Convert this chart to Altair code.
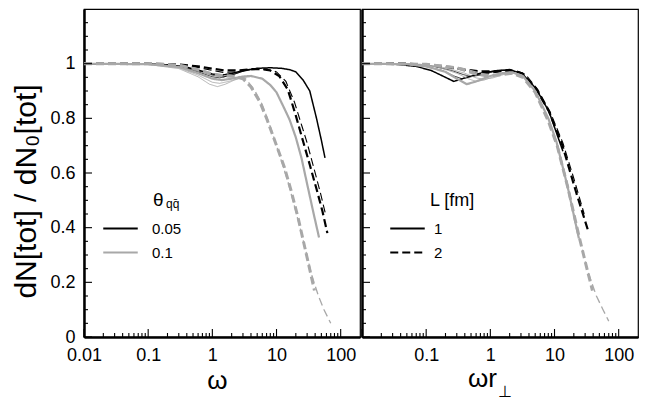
import altair as alt
import pandas as pd

# ---------------- data ----------------
# Left panel: x = omega
L_BS1_X = [0.01, 0.1, 0.2, 0.4, 0.7, 1.0, 1.4, 2, 3, 5, 8, 12, 16, 20, 26, 33, 42, 50, 57]
L_BS1_Y = [1.0, 0.999, 0.996, 0.987, 0.972, 0.962, 0.958, 0.964, 0.975, 0.983, 0.985, 0.983, 0.978, 0.97, 0.94, 0.9, 0.8, 0.72, 0.655]
L_BS2_X = [0.01, 0.1, 0.3, 0.6, 1.0, 1.3, 2, 3, 5]
L_BS2_Y = [1.0, 0.998, 0.99, 0.97, 0.952, 0.948, 0.958, 0.972, 0.982]
L_BS3_X = [0.01, 0.1, 0.3, 0.6, 1.0, 1.5, 2.2, 3.2, 5]
L_BS3_Y = [1.0, 0.999, 0.992, 0.975, 0.958, 0.952, 0.962, 0.975, 0.983]
L_BD1_X = [0.01, 0.1, 0.3, 0.6, 1, 1.5, 2.5, 4, 6, 8, 11, 15, 20, 26, 33, 43, 52, 62]
L_BD1_Y = [1.0, 1.0, 0.997, 0.99, 0.982, 0.976, 0.975, 0.98, 0.98, 0.975, 0.955, 0.905, 0.81, 0.715, 0.63, 0.533, 0.46, 0.38]
L_BD2_X = [0.01, 0.2, 0.5, 1, 1.5, 2.5, 4, 7, 10, 14, 19, 25, 30, 38, 48, 58]
L_BD2_Y = [1.0, 0.998, 0.99, 0.975, 0.968, 0.97, 0.978, 0.98, 0.97, 0.935, 0.86, 0.77, 0.71, 0.62, 0.53, 0.45]
L_GS1_X = [0.01, 0.1, 0.3, 0.6, 1, 1.4, 2, 3, 4, 6, 8, 10, 13, 16, 20, 24.5, 30, 38, 46]
L_GS1_Y = [1.0, 0.998, 0.988, 0.965, 0.945, 0.94, 0.945, 0.953, 0.955, 0.945, 0.922, 0.895, 0.84, 0.795, 0.73, 0.655, 0.56, 0.45, 0.364]
L_GS2_X = [0.01, 0.1, 0.3, 0.6, 0.9, 1.2, 1.6, 2.2, 3, 4]
L_GS2_Y = [1.0, 0.997, 0.982, 0.952, 0.925, 0.916, 0.925, 0.94, 0.95, 0.953]
L_GS3_X = [0.01, 0.1, 0.3, 0.6, 1, 1.3, 1.8, 2.5, 3.5]
L_GS3_Y = [1.0, 0.998, 0.985, 0.958, 0.932, 0.928, 0.935, 0.945, 0.953]
L_GD1_X = [0.01, 0.1, 0.3, 0.6, 1, 1.5, 2.2, 3, 4, 5.5, 7, 9, 13.3, 17, 22, 30, 39]
L_GD1_Y = [1.0, 1.0, 0.995, 0.978, 0.962, 0.955, 0.953, 0.945, 0.915, 0.86, 0.8, 0.73, 0.62, 0.533, 0.43, 0.29, 0.17]
L_GD2_X = [0.01, 0.2, 0.5, 1, 1.6, 2.5, 3.3, 4.5, 6, 8, 11, 15, 20, 27, 35, 45, 55, 70]
L_GD2_Y = [1.0, 0.998, 0.985, 0.965, 0.958, 0.955, 0.945, 0.905, 0.85, 0.77, 0.67, 0.57, 0.46, 0.34, 0.23, 0.15, 0.1, 0.05]

# Right panel: x = omega * r_perp
R_BS1_X = [0.01, 0.03, 0.07, 0.12, 0.2, 0.27, 0.4, 0.7, 1.3, 2, 3.1, 5.1, 8.2, 13.5]
R_BS1_Y = [1.0, 0.999, 0.99, 0.975, 0.95, 0.935, 0.948, 0.965, 0.975, 0.977, 0.965, 0.91, 0.825, 0.68]
R_BS2_X = [0.01, 0.04, 0.1, 0.18, 0.27, 0.36, 0.5, 0.8, 1.3, 2, 3.1]
R_BS2_Y = [1.0, 0.998, 0.99, 0.975, 0.955, 0.945, 0.952, 0.966, 0.975, 0.977, 0.965]
R_BS3_X = [0.01, 0.05, 0.12, 0.25, 0.38, 0.5, 0.7, 1.0, 1.5, 2.2]
R_BS3_Y = [1.0, 0.999, 0.992, 0.975, 0.96, 0.953, 0.958, 0.968, 0.975, 0.977]
R_BD1_X = [0.01, 0.05, 0.1, 0.2, 0.4, 0.7, 1.2, 2, 3.1, 5.1, 8.2, 13.2, 21.5, 33.6]
R_BD1_Y = [1.0, 1.0, 0.996, 0.988, 0.978, 0.972, 0.972, 0.977, 0.965, 0.91, 0.825, 0.703, 0.533, 0.387]
R_BD2_X = [0.01, 0.07, 0.15, 0.3, 0.6, 1.0, 1.6, 2.5, 3.5, 5.5, 8.5, 13.5, 20, 29]
R_BD2_Y = [1.0, 0.999, 0.994, 0.982, 0.968, 0.965, 0.972, 0.975, 0.962, 0.905, 0.825, 0.71, 0.58, 0.45]
R_GS1_X = [0.01, 0.05, 0.1, 0.2, 0.3, 0.43, 0.6, 1, 1.5, 2.2, 3.2, 5, 8, 10.7, 16, 24]
R_GS1_Y = [1.0, 0.998, 0.99, 0.97, 0.945, 0.925, 0.935, 0.955, 0.965, 0.968, 0.955, 0.9, 0.8, 0.715, 0.55, 0.36]
R_GS2_X = [0.01, 0.06, 0.15, 0.3, 0.45, 0.6, 0.8, 1.2, 1.8, 2.5]
R_GS2_Y = [1.0, 0.998, 0.988, 0.965, 0.945, 0.935, 0.94, 0.955, 0.965, 0.968]
R_GS3_X = [0.01, 0.08, 0.2, 0.4, 0.6, 0.8, 1.1, 1.6, 2.4]
R_GS3_Y = [1.0, 0.998, 0.985, 0.965, 0.948, 0.943, 0.948, 0.96, 0.967]
R_GD1_X = [0.01, 0.1, 0.3, 0.6, 0.9, 1.5, 2.2, 3.2, 5, 8, 11, 16, 24, 32, 39]
R_GD1_Y = [1.0, 0.998, 0.985, 0.962, 0.955, 0.96, 0.965, 0.95, 0.895, 0.79, 0.7, 0.55, 0.37, 0.25, 0.17]
R_GD2_X = [0.01, 0.12, 0.35, 0.7, 1.1, 1.7, 2.5, 3.5, 5.3, 8.3, 11.5, 16.5, 24, 33, 45, 57, 70]
R_GD2_Y = [1.0, 0.998, 0.985, 0.965, 0.958, 0.962, 0.964, 0.948, 0.89, 0.785, 0.69, 0.545, 0.37, 0.24, 0.15, 0.1, 0.058]

THETA_VALUES = ["0.05", "0.1"]
L_VALUES = ["1", "2"]

# curve id -> (panel, theta, L, x, y)
CURVES = {
    "L_bs1": ("left", "0.05", "1", L_BS1_X, L_BS1_Y),
    "L_bs2": ("left", "0.05", "1", L_BS2_X, L_BS2_Y),
    "L_bs3": ("left", "0.05", "1", L_BS3_X, L_BS3_Y),
    "L_bd1": ("left", "0.05", "2", L_BD1_X, L_BD1_Y),
    "L_bd2": ("left", "0.05", "2", L_BD2_X, L_BD2_Y),
    "L_gs1": ("left", "0.1", "1", L_GS1_X, L_GS1_Y),
    "L_gs2": ("left", "0.1", "1", L_GS2_X, L_GS2_Y),
    "L_gs3": ("left", "0.1", "1", L_GS3_X, L_GS3_Y),
    "L_gd1": ("left", "0.1", "2", L_GD1_X, L_GD1_Y),
    "L_gd2": ("left", "0.1", "2", L_GD2_X, L_GD2_Y),
    "R_bs1": ("right", "0.05", "1", R_BS1_X, R_BS1_Y),
    "R_bs2": ("right", "0.05", "1", R_BS2_X, R_BS2_Y),
    "R_bs3": ("right", "0.05", "1", R_BS3_X, R_BS3_Y),
    "R_bd1": ("right", "0.05", "2", R_BD1_X, R_BD1_Y),
    "R_bd2": ("right", "0.05", "2", R_BD2_X, R_BD2_Y),
    "R_gs1": ("right", "0.1", "1", R_GS1_X, R_GS1_Y),
    "R_gs2": ("right", "0.1", "1", R_GS2_X, R_GS2_Y),
    "R_gs3": ("right", "0.1", "1", R_GS3_X, R_GS3_Y),
    "R_gd1": ("right", "0.1", "2", R_GD1_X, R_GD1_Y),
    "R_gd2": ("right", "0.1", "2", R_GD2_X, R_GD2_Y),
}

# tick values / labels
X_MAJOR = [0.01, 0.1, 1, 10, 100]
X_MAJOR_RIGHT = [0.1, 1, 10, 100]
X_MINOR = [round(k * 10.0 ** e, 6) for e in (-2, -1, 0, 1, 2) for k in range(2, 10) if k * 10.0 ** e < 200]
Y_MAJOR = [0, 0.2, 0.4, 0.6, 0.8, 1.0]
Y_MINOR = [round(0.05 * i, 2) for i in range(1, 24) if i % 4 != 0]

Y_TITLE = "dN[tot]    /    dN\u2080[tot]"
X_TITLE_LEFT = "\u03c9"
X_TITLE_RIGHT = "\u03c9r"
X_TITLE_RIGHT_SUB = "\u22a5"
LEG_THETA = "\u03b8"
LEG_THETA_SUB = "qq\u0304"
LEG_L = "L [fm]"

# ---------------- styles ----------------
WIDTHS = {"bs1": 1.5, "bs2": 0.8, "bs3": 0.8, "bd1": 2.2, "bd2": 1.1,
          "gs1": 2.2, "gs2": 0.9, "gs3": 0.9, "gd1": 3.0, "gd2": 1.3}
BLACK = "#000000"
GRAY = "#a8a8a8"
FONT = "Liberation Sans"

rows = []
for cid, (panel, theta, L, xs, ys) in CURVES.items():
    for i, (xv, yv) in enumerate(zip(xs, ys)):
        rows.append({"panel": panel, "curve": cid, "theta": theta, "L": L,
                     "w": WIDTHS[cid.split("_")[1]], "x": xv, "y": yv, "i": i})
df = pd.DataFrame(rows)

X_DOMAIN = [0.01, 200]
Y_DOMAIN = [0, 1.2]
X_SCALE = alt.Scale(type="log", domain=X_DOMAIN, nice=False)
Y_SCALE = alt.Scale(domain=Y_DOMAIN, nice=False, zero=False)
W, H = 276, 328
MAJOR_LEN, MINOR_LEN = 8, 4  # tick lengths in pixels

# tick segments (axis decoration): converted from pixel length to data units
ydec = (Y_DOMAIN[1] - Y_DOMAIN[0]) / H
xdec = 4.30103 / W  # decades per pixel
tick_rows = []
for v, ln in [(v, MAJOR_LEN) for v in X_MAJOR] + [(v, MINOR_LEN) for v in X_MINOR]:
    tick_rows += [{"tid": f"x{v}", "x": v, "y": 0.0}, {"tid": f"x{v}", "x": v, "y": ln * ydec}]
for v, ln in [(v, MAJOR_LEN) for v in Y_MAJOR] + [(v, MINOR_LEN) for v in Y_MINOR]:
    tick_rows += [{"tid": f"y{v}", "x": X_DOMAIN[0], "y": v},
                  {"tid": f"y{v}", "x": X_DOMAIN[0] * 10 ** (ln * xdec), "y": v}]
ticks_df = pd.DataFrame(tick_rows)


def text_layer(txt, x, y, size, align="left", baseline="alphabetic"):
    return alt.Chart(pd.DataFrame({"t": [txt]})).mark_text(
        font=FONT, fontSize=size, align=align, baseline=baseline, color="black"
    ).encode(x=alt.value(x), y=alt.value(y), text="t:N")


def panel(name):
    d = df[df.panel == name]
    is_left = name == "left"
    x_lab = alt.Axis(
        values=X_MAJOR if is_left else X_MAJOR_RIGHT, format="~g", labelFlush=False,
        ticks=False, domainWidth=2.5, domainColor="black", labelPadding=9, labelOverlap=False,
        title=X_TITLE_LEFT if is_left else X_TITLE_RIGHT,
        titleX=133 if is_left else 120, titleY=51 if is_left else 49,
        titleBaseline="alphabetic", titleAlign="center", titleFontSize=26,
        grid=False, orient="bottom",
    )
    if is_left:
        y_lab = alt.Axis(
            values=Y_MAJOR, format="~f", ticks=False, domainWidth=2.5, domainColor="black",
            labelPadding=9, title=Y_TITLE, grid=False, orient="left",
            titleX=-49, titleY=182, titleBaseline="alphabetic", titleAngle=270,
            titleAlign="center", titleFontSize=30,
        )
    else:
        y_lab = alt.Axis(
            values=Y_MAJOR, labels=False, ticks=False, domainWidth=2.5, domainColor="black",
            title=None, grid=False, orient="left", minExtent=0, maxExtent=0,
        )

    leg_common = dict(orient="none", title=None, symbolType="M-1.5,0H1.5", symbolSize=529,
                      symbolStrokeWidth=2, labelFont=FONT, labelFontSize=15, labelColor="black",
                      rowPadding=3, padding=0, legendY=207)
    color_legend = alt.Legend(legendX=24, labelOffset=19, **leg_common) if is_left else None
    dash_legend = None if is_left else alt.Legend(legendX=33, labelOffset=14,
                                                 symbolStrokeColor="black", **leg_common)

    lines = alt.Chart(d).mark_line().encode(
        x=alt.X("x:Q", scale=X_SCALE, axis=x_lab),
        y=alt.Y("y:Q", scale=Y_SCALE, axis=y_lab),
        color=alt.Color("theta:N", scale=alt.Scale(domain=THETA_VALUES, range=[BLACK, GRAY]),
                        legend=color_legend),
        strokeDash=alt.StrokeDash("L:N", scale=alt.Scale(domain=L_VALUES, range=[[1, 0], [8, 4]]),
                                  legend=dash_legend),
        strokeWidth=alt.StrokeWidth("w:Q", scale=None),
        detail="curve:N",
        order="i:Q",
    )
    ticks = alt.Chart(ticks_df).mark_line(color="black", strokeWidth=1.1).encode(
        x=alt.X("x:Q", scale=X_SCALE, axis=None),
        y=alt.Y("y:Q", scale=Y_SCALE, axis=None),
        detail="tid:N",
    )
    layers = [lines, ticks]
    if is_left:
        layers += [text_layer(LEG_THETA, 69, 197, 19), text_layer(LEG_THETA_SUB, 82, 199, 12)]
    else:
        layers += [text_layer(LEG_L, 68, 197, 18), text_layer(X_TITLE_RIGHT_SUB, 136, 388, 16)]
    return alt.layer(*layers).resolve_axis(x="independent", y="independent").properties(width=W, height=H)


chart = alt.hconcat(panel("left"), panel("right"), spacing=2, bounds="flush").resolve_legend(
    color="independent", strokeDash="independent"
).properties(
    padding={"left": 2, "top": 0, "right": 0, "bottom": 0}, background="white"
).configure_view(
    stroke="black", strokeWidth=1.2
).configure_axis(
    labelFont=FONT, labelFontSize=18, labelColor="black",
    titleFont=FONT, titleColor="black", titleFontWeight="normal",
)

chart.save("out.html", embed_options={"renderer": "svg", "actions": False})
